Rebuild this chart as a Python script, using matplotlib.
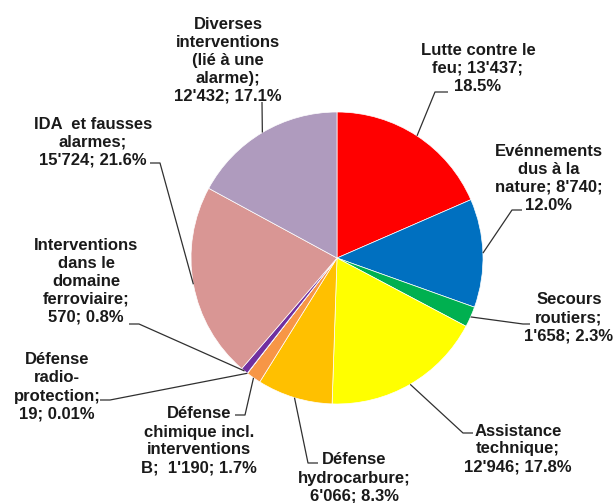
import matplotlib
matplotlib.use('Agg')
import matplotlib.pyplot as plt
import numpy as np

# Données
noms = [
    "Lutte contre le\nfeu; {v};\n{p}",
    "Evénnements\ndus à la\nnature; {v};\n{p}",
    "Secours\nroutiers;\n{v}; {p}",
    "Assistance\ntechnique;\n{v}; {p}",
    "Défense\nhydrocarbure;\n{v}; {p}",
    "Défense\nchimique incl.\ninterventions\nB;  {v}; {p}",
    "Défense\nradio-\nprotection;\n{v}; {p}",
    "Interventions\ndans le\ndomaine\nferroviaire;\n{v}; {p}",
    "IDA  et fausses\nalarmes;\n{v}; {p}",
    "Diverses\ninterventions\n(lié à une\nalarme);\n{v}; {p}",
]
valeurs = [13437, 8740, 1658, 12946, 6066, 1190, 19, 570, 15724, 12432]
pourcentages = ["18.5%", "12.0%", "2.3%", "17.8%", "8.3%", "1.7%", "0.01%", "0.8%", "21.6%", "17.1%"]
couleurs = ['#FF0000', '#0070C0', '#00B050', '#FFFF00', '#FFC000',
            '#F79646', '#C0504D', '#7030A0', '#D99694', '#AF9BBE']

W, H = 613, 503

def py(y):
    # coordonnées pixel (y vers le bas) -> données
    return H - y

# position du texte (centre) et coude de la ligne de rappel, en pixels
pos_texte = [(478, 68), (549, 178), (569, 318), (518, 449), (354, 478),
             (199, 441), (57, 387), (86, 281), (93, 142), (228, 60)]
coudes = [[(435, 92), (448, 92)],
          [(512, 210), (522, 210)],
          [(523, 324), (530, 324)],
          [(463, 433), (473, 433)],
          [(308, 463), (318, 463)],
          [(245, 415), (235, 415)],
          [(110, 400), (100, 400)],
          [(139, 324), (129, 324)],
          [(160, 163), (150, 163)],
          [(262, 102)]]

fig = plt.figure(figsize=(W / 100, H / 100), dpi=100)
ax = fig.add_axes([0, 0, 1, 1])

cx, cy, r = 337, py(258), 146
wedges, _ = ax.pie(valeurs, colors=couleurs, startangle=90, counterclock=False,
                   center=(cx, cy), radius=r,
                   wedgeprops=dict(edgecolor='white', linewidth=0.5))

police = ['Liberation Sans', 'DejaVu Sans']

for i, w in enumerate(wedges):
    ang = np.deg2rad((w.theta1 + w.theta2) / 2)
    ax_, ay_ = cx + r * np.cos(ang), cy + r * np.sin(ang)
    xs = [ax_] + [c[0] for c in coudes[i]]
    ys = [ay_] + [py(c[1]) for c in coudes[i]]
    ax.plot(xs, ys, color='#303030', lw=0.9, solid_capstyle='butt')
    v = f"{valeurs[i]:,}".replace(',', "'")
    txt = noms[i].format(v=v, p=pourcentages[i])
    tx, ty = pos_texte[i]
    ax.text(tx, py(ty), txt, ha='center', va='center', fontsize=12,
            fontweight='bold', family=police, linespacing=1.25, color='#1a1a1a')

ax.set_xlim(0, W)
ax.set_ylim(0, H)
ax.set_aspect('equal')
ax.axis('off')

fig.savefig('out.png', dpi=100)
